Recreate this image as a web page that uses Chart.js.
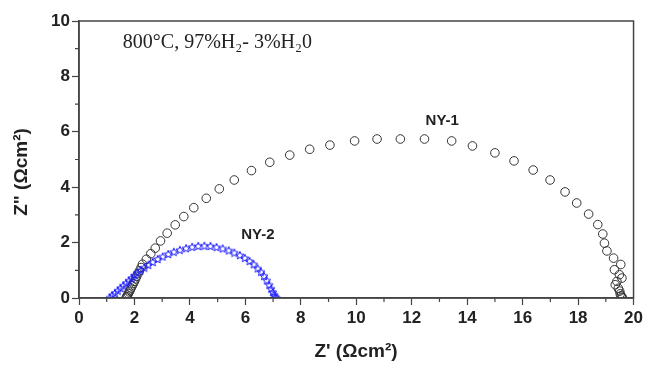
<!DOCTYPE html>
<html>
<head>
<meta charset="utf-8">
<script src="https://cdn.jsdelivr.net/npm/chart.js@4/dist/chart.umd.min.js"></script>
<style>
  html, body { margin: 0; padding: 0; background: #fff; }
  #wrap { width: 646px; height: 367px; }
</style>
</head>
<body>
<div id="wrap"><canvas id="nyquist" width="646" height="367"></canvas></div>
<script>
// NY-1 (open circles)
const ny1X = [1.70, 1.72, 1.75, 1.78, 1.81, 1.85, 1.88, 1.92, 1.96, 2.00, 2.04, 2.08, 2.13, 2.18, 2.24,
              2.29, 2.43, 2.59, 2.75, 2.94, 3.18, 3.47, 3.78, 4.14, 4.59, 5.06, 5.60, 6.22, 6.88, 7.60,
              8.32, 9.05, 9.94, 10.75, 11.59, 12.46, 13.44, 14.19, 15.00, 15.69, 16.38, 16.99, 17.53,
              17.95, 18.38, 18.71, 18.89, 18.95, 19.04, 19.28, 19.54, 19.31, 19.49, 19.58, 19.40, 19.34,
              19.45, 19.50, 19.52, 19.55, 19.58, 19.60];
const ny1Y = [0.00, 0.05, 0.10, 0.16, 0.22, 0.29, 0.36, 0.44, 0.52, 0.60, 0.69, 0.78, 0.88, 0.98, 1.10,
              1.22, 1.40, 1.60, 1.80, 2.06, 2.34, 2.64, 2.94, 3.26, 3.60, 3.94, 4.26, 4.60, 4.90, 5.16,
              5.37, 5.52, 5.67, 5.74, 5.74, 5.74, 5.67, 5.49, 5.24, 4.95, 4.62, 4.26, 3.83,
              3.43, 3.03, 2.65, 2.31, 1.98, 1.70, 1.44, 1.21, 1.02, 0.84, 0.72, 0.60, 0.48,
              0.35, 0.25, 0.15, 0.08, 0.03, 0.00];

// NY-2 (blue stars)
const ny2X = [1.12, 1.20, 1.30, 1.40, 1.50, 1.60, 1.70, 1.80, 1.90, 2.00, 2.10, 2.22, 2.36, 2.50, 2.66,
              2.84, 3.02, 3.22, 3.42, 3.64, 3.86, 4.08, 4.30, 4.52, 4.74, 4.96, 5.18, 5.40, 5.60, 5.80,
              5.98, 6.15, 6.30, 6.44, 6.56, 6.67, 6.77, 6.86, 6.93, 6.99, 7.04, 7.08, 7.12];
const ny2Y = [0.02, 0.10, 0.18, 0.27, 0.36, 0.45, 0.54, 0.63, 0.72, 0.82, 0.91, 1.00, 1.10, 1.20, 1.30,
              1.41, 1.50, 1.59, 1.67, 1.74, 1.80, 1.85, 1.88, 1.89, 1.88, 1.84, 1.79, 1.72, 1.64, 1.55,
              1.45, 1.34, 1.22, 1.07, 0.95, 0.80, 0.64, 0.48, 0.34, 0.22, 0.12, 0.05, 0.01];

const xTicks = [0, 2, 4, 6, 8, 10, 12, 14, 16, 18, 20];
const yTicks = [0, 2, 4, 6, 8, 10];

const toPoints = (xs, ys) => xs.map((x, i) => ({ x: x, y: ys[i] }));

const axisColor = "#444";
const titleFont = "bold 19px 'Liberation Sans', Arial, sans-serif";

// five-pointed outline star used as the NY-2 marker
function makeStar(size, color) {
    const c = document.createElement("canvas");
    c.width = size;
    c.height = size;
    const g = c.getContext("2d");
    const cx = size / 2, cy = size / 2 + 0.5;
    const outer = size / 2 - 0.8, inner = outer * 0.45;
    g.beginPath();
    for (let i = 0; i < 10; i++) {
        const r = i % 2 === 0 ? outer : inner;
        const a = -Math.PI / 2 + i * Math.PI / 5;
        const px = cx + r * Math.cos(a), py = cy + r * Math.sin(a);
        if (i === 0) g.moveTo(px, py); else g.lineTo(px, py);
    }
    g.closePath();
    g.strokeStyle = color;
    g.lineWidth = 1;
    g.stroke();
    return c;
}
const starImg = makeStar(10, "#1c1cff");

// frame, minor ticks, axis titles and the text labels inside the plot
const extrasPlugin = {
    id: "extras",
    afterDraw(chart) {
        const ctx = chart.ctx;
        const area = chart.chartArea;
        const xs = chart.scales.x;
        const ys = chart.scales.y;
        ctx.save();
        ctx.strokeStyle = axisColor;
        ctx.lineWidth = 1.5;
        ctx.strokeRect(area.left, area.top, area.right - area.left, area.bottom - area.top);

        // minor ticks
        ctx.lineWidth = 1.2;
        ctx.beginPath();
        for (let v = 1; v < 20; v += 2) {
            const px = xs.getPixelForValue(v);
            ctx.moveTo(px, area.bottom);
            ctx.lineTo(px, area.bottom + 4);
        }
        for (let v = 1; v < 10; v += 2) {
            const py = ys.getPixelForValue(v);
            ctx.moveTo(area.left, py);
            ctx.lineTo(area.left - 4, py);
        }
        ctx.stroke();

        ctx.fillStyle = "#222";
        ctx.textBaseline = "middle";

        // axis titles
        ctx.font = titleFont;
        ctx.textAlign = "center";
        ctx.fillText("Z' (Ωcm²)", 356, 352);
        ctx.save();
        ctx.translate(22, 172);
        ctx.rotate(-Math.PI / 2);
        ctx.fillText("Z\" (Ωcm²)", 0, 0);
        ctx.restore();

        // condition label
        ctx.textAlign = "left";
        ctx.font = "20px 'Liberation Serif', serif";
        ctx.fillText("800°C, 97%H₂- 3%H₂0", xs.getPixelForValue(1.58), ys.getPixelForValue(9.2));

        ctx.font = "bold 15px 'Liberation Sans', Arial, sans-serif";
        ctx.textAlign = "center";
        ctx.fillText("NY-1", xs.getPixelForValue(13.1), ys.getPixelForValue(6.4));
        ctx.fillText("NY-2", xs.getPixelForValue(6.45), ys.getPixelForValue(2.27));
        ctx.restore();
    }
};

new Chart(document.getElementById("nyquist"), {
    type: "scatter",
    data: {
        datasets: [
            {
                label: "NY-1",
                data: toPoints(ny1X, ny1Y),
                pointStyle: "circle",
                pointRadius: 4.3,
                pointBorderWidth: 1,
                borderColor: "#333",
                backgroundColor: "rgba(0,0,0,0)",
                order: 2
            },
            {
                label: "NY-2",
                data: toPoints(ny2X, ny2Y),
                pointStyle: starImg,
                pointRadius: 5,
                borderColor: "#1c1cff",
                backgroundColor: "rgba(0,0,0,0)",
                order: 1
            }
        ]
    },
    options: {
        responsive: false,
        animation: false,
        layout: { padding: { top: 21, right: 10, left: 0, bottom: 0 } },
        plugins: {
            legend: { display: false },
            tooltip: { enabled: false }
        },
        scales: {
            x: {
                type: "linear",
                min: 0, max: 20,
                afterBuildTicks: (scale) => { scale.ticks = xTicks.map(v => ({ value: v })); },
                afterFit: (scale) => { scale.height = 69; },
                grid: { drawOnChartArea: false, tickLength: 7, tickColor: axisColor, tickWidth: 1.2 },
                border: { color: axisColor, width: 1.5 },
                ticks: {
                    color: "#222",
                    padding: 3,
                    font: { family: "'Liberation Sans', Arial, sans-serif", size: 17, weight: "bold" }
                }
            },
            y: {
                type: "linear",
                min: 0, max: 10,
                afterBuildTicks: (scale) => { scale.ticks = yTicks.map(v => ({ value: v })); },
                afterFit: (scale) => { scale.width = 79; },
                grid: { drawOnChartArea: false, tickLength: 7, tickColor: axisColor, tickWidth: 1.2 },
                border: { color: axisColor, width: 1.5 },
                ticks: {
                    color: "#222",
                    padding: 2,
                    font: { family: "'Liberation Sans', Arial, sans-serif", size: 17, weight: "bold" }
                }
            }
        }
    },
    plugins: [extrasPlugin]
});
</script>
</body>
</html>
